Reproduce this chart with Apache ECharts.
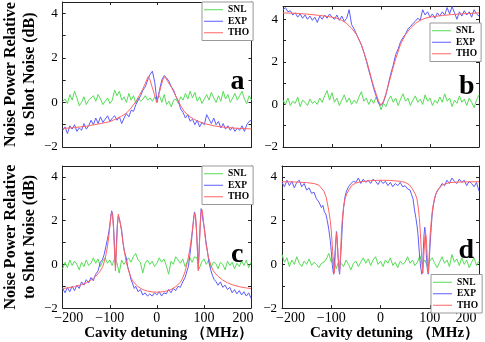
<!DOCTYPE html>
<html>
<head>
<meta charset="utf-8">
<script src="https://cdn.jsdelivr.net/npm/echarts@6/dist/echarts.min.js"></script>
<style>
  html, body { margin: 0; padding: 0; background: #fff; }
  #chart { width: 485px; height: 342px; }
</style>
</head>
<body>
<div id="chart"></div>
<script>
// detuning grid (MHz) for the noisy traces
const detuning = [-200, -195, -190, -185, -180, -175, -170, -165, -160, -155,
  -150, -145, -140, -135, -130, -125, -120, -115, -110, -105,
  -100, -95, -90, -85, -80, -75, -70, -65, -60, -55,
  -50, -45, -40, -35, -30, -25, -20, -15, -10, -5,
  0,
  5, 10, 15, 20, 25, 30, 35, 40, 45, 50,
  55, 60, 65, 70, 75, 80, 85, 90, 95, 100,
  105, 110, 115, 120, 125, 130, 135, 140, 145, 150,
  155, 160, 165, 170, 175, 180, 185, 190, 195, 200]

// panel a
const snlA = [0.05, 0.15, -0.05, 0.35, 0.1, 0.5, 0.2, -0.15, 0.0, 0.25,
  -0.1, 0.1, 0.2, 0.3, 0.05, 0.35, 0.15, -0.1, 0.05, 0.2,
  -0.05, 0.1, 0.55, 0.3, 0.5, 0.1, 0.25, 0.0, 0.4, 0.1,
  0.3, -0.05, 0.2, 0.05, 0.15, 0.3, 0.1, 0.2, 0.05, 0.25,
  0.15,
  0.3, 0.0, 0.35, -0.1, 0.05, -0.2, 0.1, 0.15, -0.05, 0.25,
  0.1, 0.4, 0.15, 0.5, 0.2, 0.45, 0.05, 0.25, -0.05, 0.15,
  0.35, 0.1, 0.45, 0.2, 0.0, 0.3, 0.05, 0.5, 0.15, 0.35,
  0.0, 0.2, 0.4, 0.1, 0.3, 0.5, 0.15, -0.05, 0.3, 0.1]
const expA = [-1.25, -1.1, -1.4, -1.05, -1.2, -1.0, -1.3, -1.15, -1.25, -0.95,
  -1.2, -1.05, -0.8, -1.0, -0.7, -0.95, -0.65, -0.9, -0.75, -0.6,
  -0.85, -0.7, -0.6, -0.8, -0.65, -0.95, -0.7, -0.5, -0.65, -0.35,
  -0.4, -0.1, 0.1, 0.3, 0.55, 0.7, 1.0, 1.25, 1.4, 0.9,
  0.0,
  0.55, 1.0, 1.2, 1.1, 0.95, 0.7, 0.55, 0.25, 0.05, -0.3,
  -0.45, -0.7, -0.55, -0.85, -0.75, -1.0, -0.8, -1.1, -0.9, -1.0,
  -0.55, -0.75, -0.95, -0.7, -1.0, -0.85, -1.15, -0.95, -1.2, -1.05,
  -1.25, -1.1, -1.3, -1.15, -1.25, -1.05, -1.3, -1.0, -0.85, -0.8]
const thoA = [[-200, -1.17], [-175, -1.13], [-150, -1.07], [-133, -1.0], [-115, -0.93],
  [-100, -0.86], [-85, -0.72], [-75, -0.62], [-65, -0.48], [-55, -0.25], [-45, 0.04],
  [-38, 0.3], [-31, 0.57], [-25, 0.85], [-19, 1.16], [-15, 1.0], [-10, 0.65], [-5, 0.3],
  [-1, 0.0], [3, 0.3], [8, 0.7], [12, 1.0], [16, 1.16], [22, 0.95], [30, 0.69],
  [37, 0.4], [43.5, 0.12], [50, -0.15], [57, -0.4], [70, -0.65], [84, -0.82],
  [100, -0.95], [125, -1.07], [150, -1.13], [175, -1.17], [200, -1.19]]

// panel b
const snlB = [0.2, 0.0, 0.3, -0.05, 0.15, 0.05, 0.35, -0.1, 0.2, 0.1,
  -0.05, 0.25, 0.05, 0.15, 0.0, 0.3, 0.1, 0.4, 0.65, 0.2,
  0.55, 0.1, 0.3, -0.05, 0.2, 0.45, 0.1, 0.3, 0.0, 0.2,
  0.05, 0.35, 0.6, 0.15, 0.3, 0.0, 0.25, 0.05, 0.35, 0.1,
  -0.25,
  0.05, -0.1, 0.2, 0.4, 0.1, 0.3, -0.05, 0.25, 0.5, 0.15,
  0.3, -0.05, 0.2, 0.4, 0.1, 0.25, 0.0, 0.45, 0.15, 0.3,
  -0.05, 0.2, 0.05, 0.35, 0.1, 0.5, 0.15, 0.3, -0.1, 0.2,
  0.05, 0.4, 0.1, 0.25, -0.05, 0.3, 0.1, -0.15, 0.2, 0.45]
const expB = [4.45, 4.55, 4.35, 4.4, 4.2, 4.3, 4.1, 4.25, 4.05, 4.2,
  4.0, 4.15, 3.95, 4.1, 3.85, 4.15, 4.0, 4.2, 4.05, 4.25,
  4.1, 4.0, 4.2, 3.95, 4.15, 3.9, 4.05, 4.45, 3.75, 3.55,
  3.3, 3.05, 2.8, 2.45, 2.05, 1.6, 1.2, 0.75, 0.4, 0.05,
  -0.05,
  0.1, 0.45, 0.95, 1.45, 1.85, 2.35, 2.6, 2.95, 3.15, 3.3,
  3.55, 3.65, 3.8, 3.9, 4.05, 3.95, 4.45, 4.2, 4.35, 4.1,
  4.25, 4.05, 4.3, 4.15, 4.35, 4.2, 4.55, 4.25, 4.6, 4.3,
  4.0, 4.35, 4.15, 4.4, 4.2, 4.35, 4.1, 4.45, 4.25, 4.15]
const thoB = [[-200, 4.3], [-175, 4.28], [-150, 4.24], [-125, 4.18], [-100, 4.1],
  [-90, 4.05], [-80, 3.95], [-70, 3.8], [-60, 3.58], [-50, 3.28], [-40, 2.8],
  [-30, 2.1], [-25, 1.7], [-20, 1.25], [-15, 0.85], [-10, 0.5], [-5, 0.15], [0, -0.03],
  [5, 0.15], [10, 0.5], [15, 0.9], [20, 1.33], [25, 1.75], [30, 2.15], [40, 2.83],
  [50, 3.28], [60, 3.58], [70, 3.8], [80, 3.95], [90, 4.05], [100, 4.1],
  [125, 4.18], [150, 4.23], [175, 4.27], [200, 4.3]]

// panel c
const snlC = [-0.2, 0.1, -0.15, 0.2, -0.05, 0.15, 0.0, -0.25, 0.1, -0.1,
  0.2, -0.05, 0.05, 0.3, 0.05, 0.25, -0.1, 0.15, 0.3, 0.05,
  0.2, -0.05, 0.25, 0.1, -0.4, 0.2, 0.0, 0.15, 0.3, 0.1,
  0.35, 0.5, 0.2, 0.1, -0.4, 0.05, 0.2, 0.0, 0.15, -0.1,
  0.05,
  0.3, 0.1, 0.25, -0.05, -0.45, 0.15, 0.0, 0.35, 0.2, 0.05,
  0.25, -0.1, 0.15, 0.3, 0.1, 0.35, 0.3, -0.2, 0.1, 0.25,
  0.0, 0.2, -0.15, 0.1, 0.05, -0.2, 0.1, 0.0, -0.25, 0.15,
  -0.05, 0.1, -0.2, 0.05, -0.1, 0.15, -0.05, 0.2, -0.15, 0.1]
const expC = [[-200, -1.1], [-195, -1.3], [-190, -1.05], [-185, -1.25], [-180, -1.0],
  [-175, -1.2], [-170, -0.95], [-165, -1.1], [-160, -0.8], [-155, -0.95], [-150, -0.7],
  [-145, -0.85], [-140, -0.6], [-135, -0.75], [-130, -0.45], [-125, -0.3], [-120, 0.1],
  [-116, 0.2], [-112, 0.45], [-108, 0.85], [-105, 1.15], [-102, 1.5], [-100, 1.8],
  [-98, 2.2], [-96, 2.45], [-94, 2.3], [-92, 1.7], [-90, 0.8], [-88, -0.1], [-86, 0.9],
  [-84, 1.8], [-82, 2.2], [-80, 2.1], [-78, 1.9], [-75, 1.6], [-72, 1.0], [-69, 0.6],
  [-65, 0.3], [-62, -0.1], [-58, -0.4], [-55, -0.7], [-52, -0.85], [-48, -1.1],
  [-45, -1.0], [-40, -1.25], [-35, -1.15], [-30, -1.4], [-25, -1.3], [-20, -1.45],
  [-15, -1.35], [-10, -1.45], [-5, -1.3], [0, -1.4], [5, -1.25], [10, -1.45], [15, -1.3],
  [20, -1.35], [25, -1.15], [30, -1.3], [35, -1.1], [40, -1.2], [45, -1.0], [50, -1.05],
  [55, -0.8], [60, -0.6], [64, -0.3], [67, -0.1], [70, 0.4], [73, 0.95], [76, 1.6],
  [78, 2.1], [80, 2.4], [82, 2.2], [84, 1.6], [86, 0.8], [88, -0.2], [90, 0.8], [92, 1.8],
  [94, 2.55], [96, 2.4], [98, 2.0], [101, 1.65], [104, 1.1], [108, 0.5], [111, 0.05],
  [115, -0.3], [118, -0.5], [122, -0.7], [126, -0.8], [130, -0.95], [135, -0.8],
  [140, -1.05], [145, -0.95], [150, -1.15], [155, -1.05], [160, -1.3], [165, -1.15],
  [170, -1.35], [175, -1.2], [180, -1.4], [185, -1.25], [190, -1.45], [195, -1.3],
  [200, -1.55]]
const thoC = [[-200, -1.1], [-190, -1.08], [-175, -1.02], [-160, -0.93], [-150, -0.85],
  [-140, -0.72], [-130, -0.55], [-120, -0.3], [-115, -0.1], [-110, 0.25], [-105, 0.8],
  [-102, 1.3], [-100, 1.7], [-98, 2.1], [-96, 2.4], [-94, 2.2], [-92, 1.6], [-90, 0.6],
  [-88, -0.3], [-86, 0.6], [-84, 1.7], [-82, 2.3], [-80, 2.25], [-78, 1.95], [-75, 1.5],
  [-72, 1.0], [-70, 0.7], [-65, 0.1], [-60, -0.3], [-55, -0.6], [-50, -0.8],
  [-40, -1.02], [-30, -1.15], [-20, -1.22], [-10, -1.26], [0, -1.27], [10, -1.26],
  [20, -1.22], [30, -1.15], [40, -1.02], [50, -0.82], [55, -0.62], [60, -0.32],
  [65, 0.1], [70, 0.7], [72, 1.0], [75, 1.5], [78, 2.0], [80, 2.35], [82, 2.25],
  [84, 1.7], [86, 0.7], [88, -0.3], [90, 0.7], [92, 1.7], [94, 2.4], [96, 2.5],
  [98, 2.2], [100, 1.75], [102, 1.35], [105, 0.85], [110, 0.3], [115, -0.05],
  [120, -0.3], [130, -0.55], [140, -0.72], [150, -0.84], [160, -0.93], [175, -1.02],
  [190, -1.08], [200, -1.1]]

// panel d
const snlD = [0.45, 0.1, 0.3, -0.1, 0.2, 0.0, 0.35, 0.05, -0.1, 0.15,
  0.0, 0.25, -0.05, 0.1, 0.0, -0.15, 0.05, 0.1, 0.25, 0.5,
  0.1, 0.3, -0.2, 0.15, 0.05, -0.1, 0.2, 0.0, -0.25, 0.05,
  0.15, -0.1, 0.1, 0.3, 0.05, 0.25, -0.05, 0.2, 0.35, 0.0,
  0.15,
  -0.1, 0.2, 0.05, 0.3, -0.05, 0.1, -0.15, 0.15, 0.0, 0.1,
  0.35, 0.05, 0.2, -0.05, 0.1, 0.4, 0.0, 0.2, -0.1, 0.15,
  0.3, 0.05, -0.15, 0.1, 0.35, 0.05, 0.2, -0.1, 0.45, 0.1,
  0.25, -0.05, 0.3, 0.0, 0.2, -0.15, 0.1, 0.3, -0.05, 0.15]
const expD = [[-200, 3.75], [-195, 3.55], [-190, 3.85], [-185, 3.6], [-180, 3.8],
  [-175, 3.5], [-170, 3.75], [-165, 3.85], [-160, 3.55], [-155, 3.7], [-150, 3.4],
  [-145, 3.5], [-140, 3.25], [-135, 3.3], [-130, 3.0], [-125, 2.85], [-120, 2.6],
  [-117, 2.7], [-114, 2.4], [-111, 2.3], [-108, 2.0], [-105, 1.6], [-102, 1.1],
  [-100, 0.6], [-98, 0.0], [-96, -0.35], [-95, -0.45], [-93, 0.3], [-91, 1.0],
  [-89.5, 1.5], [-88, 1.1], [-86, 0.3], [-84, -0.3], [-83, -0.45], [-81, 0.3],
  [-79, 1.1], [-77, 2.0], [-75, 2.6], [-72, 3.1], [-69, 3.35], [-65, 3.55], [-60, 3.7],
  [-55, 3.8], [-50, 3.75], [-45, 3.95], [-40, 3.7], [-35, 3.9], [-30, 3.75], [-25, 3.85],
  [-20, 3.7], [-15, 3.9], [-10, 3.8], [-5, 3.65], [0, 3.85], [5, 3.7], [10, 3.8],
  [15, 3.6], [20, 3.75], [25, 3.55], [30, 3.7], [35, 3.6], [40, 3.75], [45, 3.55],
  [50, 3.6], [55, 3.45], [60, 3.4], [63, 3.2], [66, 3.0], [69, 2.5], [72, 2.1],
  [74, 1.8], [76, 1.4], [78, 0.8], [80, 0.2], [82, -0.2], [84, -0.45], [85.5, -0.3],
  [87, 0.7], [88.5, 1.4], [90, 1.7], [91.5, 1.3], [93, 0.5], [95, -0.2], [97, -0.45],
  [99, 0.2], [101, 1.0], [103, 1.7], [105, 2.3], [108, 2.8], [112, 3.2], [116, 3.4],
  [120, 3.5], [125, 3.7], [130, 3.6], [135, 3.85], [140, 3.7], [145, 3.95], [150, 3.8],
  [155, 3.7], [160, 3.9], [165, 3.75], [170, 3.85], [175, 3.6], [180, 3.8], [185, 3.7],
  [190, 3.55], [195, 3.75], [200, 3.35]]
const thoD = [[-200, 3.78], [-175, 3.77], [-150, 3.74], [-135, 3.7], [-125, 3.62],
  [-115, 3.35], [-110, 3.05], [-105, 2.45], [-102, 2.0], [-100, 1.55], [-98, 0.9],
  [-96, 0.2], [-94, -0.4], [-92, 0.3], [-90, 1.2], [-89, 1.45], [-88, 1.2], [-86, 0.3],
  [-84, -0.2], [-83, -0.4], [-81, 0.6], [-79, 1.6], [-77, 2.2], [-75, 2.6], [-72, 3.0],
  [-68, 3.25], [-63, 3.45], [-58, 3.62], [-50, 3.72], [-40, 3.78], [-20, 3.83],
  [0, 3.85], [20, 3.84], [40, 3.8], [50, 3.75], [58, 3.65], [64, 3.48], [70, 3.25],
  [74, 3.0], [77, 2.55], [79, 2.1], [81, 1.4], [83, 0.6], [85, -0.2], [86, -0.4],
  [88, 0.4], [90, 1.2], [91.5, 1.45], [93, 1.2], [95, 0.3], [97, -0.3], [97.5, -0.4],
  [99, 0.5], [101, 1.4], [102, 1.7], [104, 2.2], [106, 2.6], [110, 3.05], [113, 3.25],
  [118, 3.45], [125, 3.63], [140, 3.74], [160, 3.77], [200, 3.78]]

const seriesNames = ['SNL', 'EXP', 'THO']
const seriesColors = ['#55dd55', '#5c5cff', '#ff6464']

const SERIF = "'Times New Roman', 'Liberation Serif', serif"
const frameColor = '#222'

const panels = [
  { snl: snlA, exp: detuning.map((x, i) => [x, expA[i]]), tho: thoA, ymax: 4.5,
    grid: { left: 56, top: 2, width: 195.5, height: 145 },
    legend: { left: 202, top: 2 }, letter: ['a', 230.5, 81.5], bottom: false, yName: true },
  { snl: snlB, exp: detuning.map((x, i) => [x, expB[i]]), tho: thoB, ymax: 4.6,
    grid: { left: 283, top: 1.5, width: 196, height: 145.5 },
    legend: { left: 430, top: 23 }, letter: ['b', 459, 87], bottom: false, yName: false },
  { snl: snlC, exp: expC, tho: thoC, ymax: 4.5,
    grid: { left: 56, top: 166, width: 195, height: 145 },
    legend: { left: 202, top: 166 }, letter: ['c', 231, 255], bottom: true, yName: true,
    edgePad: [12, 16], namePad: 24 },
  { snl: snlD, exp: expD, tho: thoD, ymax: 4.5,
    grid: { left: 282, top: 166, width: 197, height: 145 },
    legend: { left: 431, top: 274.5 }, letter: ['d', 458.5, 251], bottom: true, yName: false,
    edgePad: [17, 26], namePad: 28 },
]

const minus = (v) => (v < 0 ? '\u2212' + Math.abs(v) : String(v))

const grids = []
const xAxes = []
const yAxes = []
const series = []
const legends = []
const graphics = []

panels.forEach((p, i) => {
  grids.push(Object.assign({ show: false, containLabel: false }, p.grid))

  const line = { show: true, onZero: false, lineStyle: { color: frameColor, width: 1 } }
  const tick = { show: true, inside: true, length: 3, lineStyle: { color: frameColor } }
  const pad = p.edgePad || [0, 0]
  const labelFont = { fontFamily: SERIF, fontSize: 14, color: '#000' }

  xAxes.push({
    gridIndex: i, type: 'value', position: 'bottom', min: -200, max: 200, interval: 100,
    axisLine: line, axisTick: tick, splitLine: { show: false },
    axisLabel: Object.assign({
      show: p.bottom, margin: 3, showMinLabel: true, showMaxLabel: true,
      formatter: (v) => {
        if (v === -200) return '{lo|' + minus(v) + '}'
        if (v === 200) return '{hi|' + v + '}'
        return minus(v)
      },
      rich: {
        lo: Object.assign({ padding: [0, 0, 0, pad[0]] }, labelFont),
        hi: Object.assign({ padding: [0, pad[1], 0, 0] }, labelFont),
      },
    }, labelFont),
    name: p.bottom ? 'Cavity detuning \uFF08MHz\uFF09' : '',
    nameLocation: 'middle', nameGap: 12,
    nameTextStyle: { fontFamily: SERIF, fontSize: 15, fontWeight: 'bold', color: '#000',
      padding: [0, 0, 0, p.namePad || 0] },
  })
  xAxes.push({
    gridIndex: i, type: 'value', position: 'top', min: -200, max: 200, interval: 100,
    axisLine: line, axisTick: tick, axisLabel: { show: false }, splitLine: { show: false },
  })

  const minor = { show: true, splitNumber: 2, length: 3, lineStyle: { color: frameColor } }
  yAxes.push({
    gridIndex: i, type: 'value', position: 'left', min: -2, max: p.ymax, interval: 2,
    axisLine: line, axisTick: tick, minorTick: minor,
    splitLine: { show: false }, minorSplitLine: { show: false },
    axisLabel: { margin: 5, fontFamily: SERIF, fontSize: 13, color: '#000', formatter: minus },
    name: p.yName ? 'Noise Power Relative\nto Shot Noise (dB)' : '',
    nameLocation: 'middle', nameRotate: 90, nameGap: 19,
    nameTextStyle: { fontFamily: SERIF, fontSize: 16, fontWeight: 'bold', color: '#000', lineHeight: 19.5 },
  })
  yAxes.push({
    gridIndex: i, type: 'value', position: 'right', min: -2, max: p.ymax, interval: 2,
    axisLine: line, axisTick: tick, minorTick: minor,
    splitLine: { show: false }, axisLabel: { show: false },
  })

  const traces = [detuning.map((x, k) => [x, p.snl[k]]), p.exp, p.tho]
  traces.forEach((data, k) => {
    series.push({
      name: seriesNames[k], type: 'line', xAxisIndex: 2 * i, yAxisIndex: 2 * i,
      data: data, showSymbol: false, symbol: 'none', color: seriesColors[k],
      lineStyle: { width: 1, color: seriesColors[k] },
    })
  })

  legends.push({
    left: p.legend.left, top: p.legend.top, orient: 'vertical',
    data: seriesNames, icon: 'rect', itemWidth: 19, itemHeight: 1, itemGap: 0,
    padding: [2, 4, 2, 2], borderColor: '#999', borderWidth: 1, borderRadius: 0,
    backgroundColor: '#fff', selectedMode: false,
    textStyle: { fontFamily: SERIF, fontSize: 9.5, fontWeight: 'bold', color: '#000', lineHeight: 11.5 },
  })

  graphics.push({
    type: 'text', left: p.letter[1], top: p.letter[2] - 14, z: 100,
    style: { text: p.letter[0], font: 'bold 28px ' + SERIF, fill: '#000' },
  })
})

const chart = echarts.init(document.getElementById('chart'), null, { renderer: 'canvas' })
chart.setOption({
  animation: false,
  backgroundColor: '#fff',
  grid: grids,
  xAxis: xAxes,
  yAxis: yAxes,
  legend: legends,
  series: series,
  graphic: graphics,
})
</script>
</body>
</html>
